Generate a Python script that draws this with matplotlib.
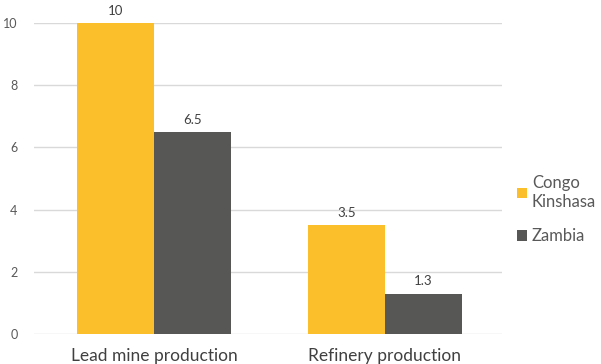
import matplotlib.pyplot as plt
import numpy as np

# лёгкая диаграмма: производство свинца
categories = ['Lead mine production', 'Refinery production']
congo = [10, 3.5]
zambia = [6.5, 1.3]
series_names = ['Congo\nKinshasa', 'Zambia']

plt.rcParams['font.family'] = ['Lato', 'DejaVu Sans']

fig = plt.figure(figsize=(6.01, 3.64), dpi=100)
ax = fig.add_axes([0.057, 0.082, 0.778, 0.855])

x = np.arange(len(categories))
w = 0.333
b1 = ax.bar(x - w / 2, congo, w, color='#FBBF2C', label=series_names[0], zorder=3)
b2 = ax.bar(x + w / 2, zambia, w, color='#575755', label=series_names[1], zorder=3)

# подписи значений над столбцами
for bars, vals in ((b1, congo), (b2, zambia)):
    for r, v in zip(bars, vals):
        ax.text(r.get_x() + r.get_width() / 2, v + 0.2, f'{v:g}',
                ha='center', va='bottom', fontsize=9.5, color='#404040')

ax.set_xlim(-0.519, 1.506)
ax.set_ylim(0, 10)
ax.set_yticks(range(0, 11, 2))
ax.set_xticks(x)
ax.set_xticklabels(categories, fontsize=12.5, color='#404040')
ax.tick_params(axis='y', labelsize=9, colors='#595959', length=0, pad=12)
ax.tick_params(axis='x', length=0, pad=10)
ax.grid(axis='y', color='#D9D9D9', lw=1, zorder=0)
for s in ax.spines.values():
    s.set_visible(False)

ax.legend(loc='center left', bbox_to_anchor=(1.0, 0.40), frameon=False,
          fontsize=12, labelcolor='#595959', handlelength=0.6, handleheight=0.6,
          handletextpad=0.3, labelspacing=1.1)

fig.savefig('out.png', dpi=100)
